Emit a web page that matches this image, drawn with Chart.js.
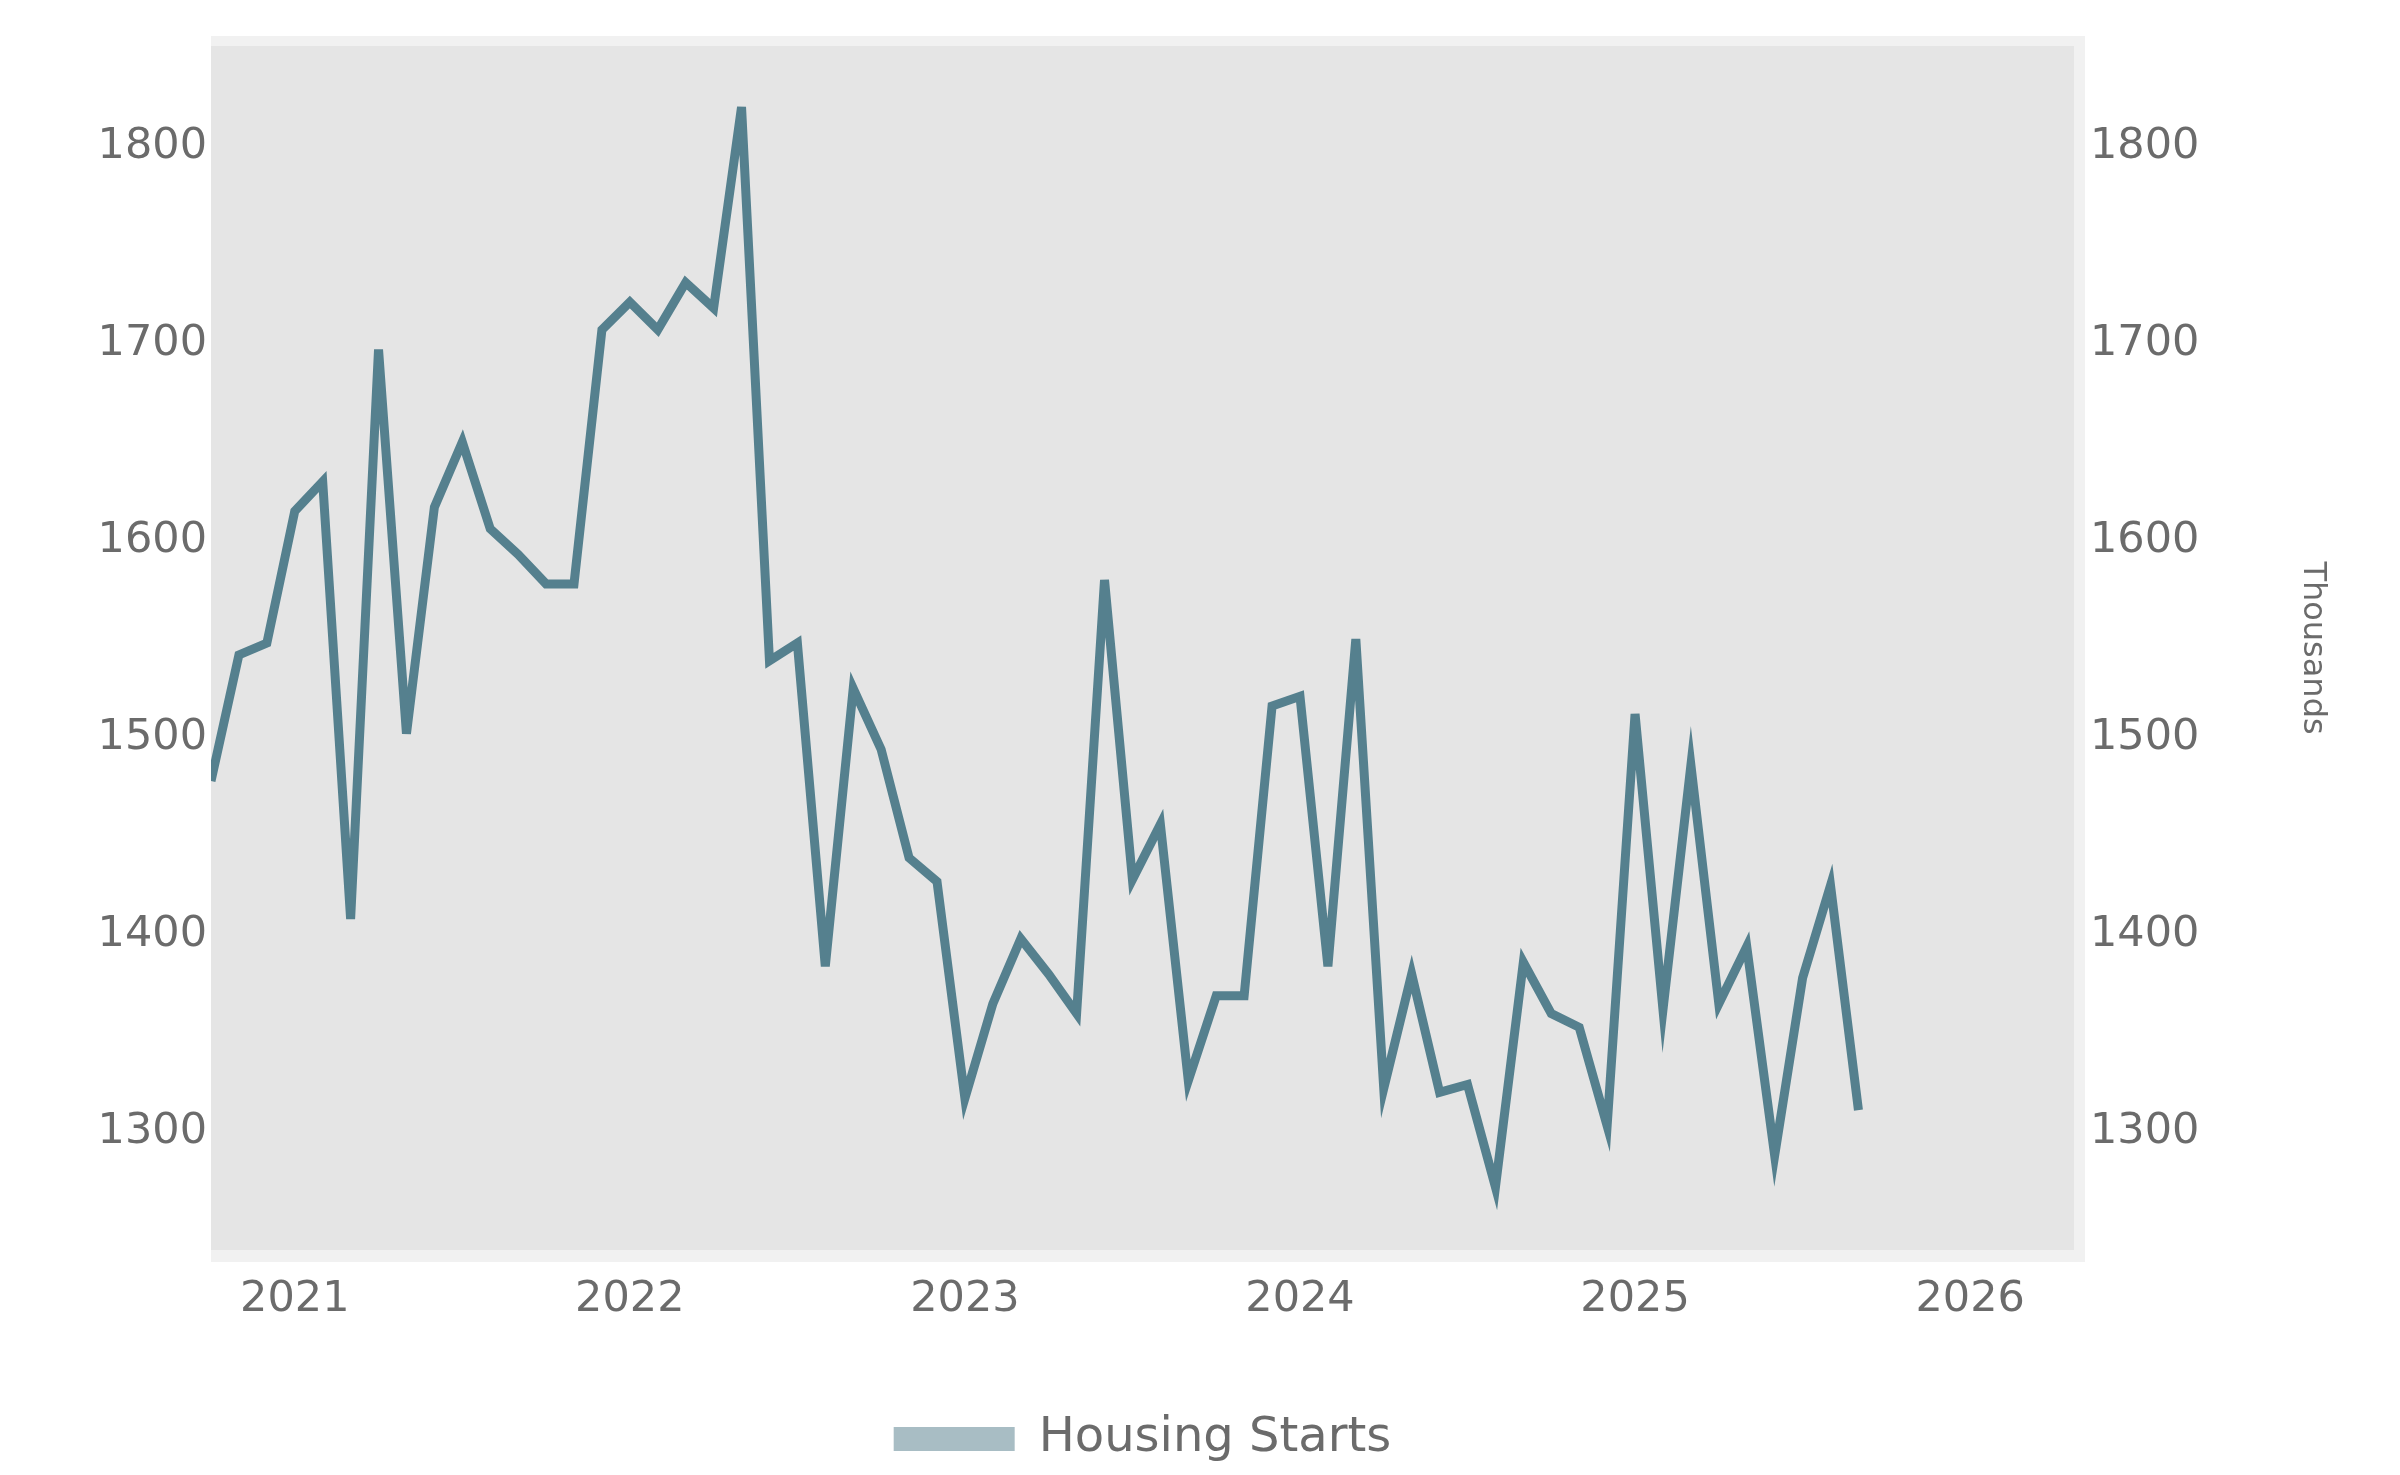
<!DOCTYPE html>
<html>
<head>
<meta charset="utf-8">
<script src="https://cdn.jsdelivr.net/npm/chart.js@4/dist/chart.umd.min.js"></script>
<style>
  html, body { margin: 0; padding: 0; background: #fff; }
  #wrap { width: 2400px; height: 1475px; }
</style>
</head>
<body>
<div id="wrap"><canvas id="chart" width="2400" height="1475"></canvas></div>
<script>
// Housing starts, monthly, Oct 2020 -> Sep 2025
const seriesName = 'Housing Starts';
const axisTitle = 'Thousands';
const firstMonth = { year: 2020, month: 10 };
const housingStarts = [
  1478, 1542, 1548, 1615, 1630, 1408, 1697, 1502, 1617, 1650,
  1606, 1593, 1578, 1578, 1707, 1721, 1707, 1731, 1718, 1820,
  1539, 1548, 1384, 1525, 1494, 1439, 1427, 1317, 1365, 1398,
  1380, 1360, 1580, 1428, 1456, 1326, 1369, 1369, 1516, 1521,
  1384, 1550, 1322, 1380, 1320, 1324, 1272, 1386, 1360, 1353,
  1303, 1512, 1362, 1486, 1365, 1394, 1288, 1378, 1425, 1311
];
const yearTicks = [2021, 2022, 2023, 2024, 2025, 2026];
const valueTicks = [1300, 1400, 1500, 1600, 1700, 1800];
const xRange = [2020.75, 2026.31];
const yRange = [1240, 1851];

const LINE = '#55808e';
const SWATCH = '#a8bdc4';
const TEXT = '#6b6b6b';
const FONT = 'DejaVu Sans';

const points = housingStarts.map((v, i) => ({
  x: firstMonth.year + (firstMonth.month - 1 + i) / 12,
  y: v
}));

const plotBg = {
  id: 'plotBg',
  afterLayout(chart) {
    // legend centred under the plot area, not the whole canvas
    const l = chart.legend, a = chart.chartArea;
    l.left = a.left;
    l.right = a.right;
    l.width = a.right - a.left;
  },
  beforeDraw(chart) {
    const { ctx, chartArea: a } = chart;
    ctx.save();
    ctx.fillStyle = '#fff';
    ctx.fillRect(0, 0, chart.width, chart.height);
    ctx.fillStyle = '#f1f1f1';
    ctx.fillRect(a.left, a.top - 10, a.right - a.left + 11, a.bottom - a.top + 22);
    ctx.fillStyle = '#e5e5e5';
    ctx.fillRect(a.left, a.top, a.right - a.left, a.bottom - a.top);
    ctx.restore();
  }
};

const valueAxis = (pos, pad) => ({
  type: 'linear',
  position: pos,
  min: yRange[0],
  max: yRange[1],
  afterBuildTicks: s => { s.ticks = valueTicks.map(v => ({ value: v })); },
  ticks: { callback: v => String(v), font: { family: FONT, size: 43 }, color: TEXT, padding: pad },
  grid: { display: false, drawTicks: false },
  border: { display: false }
});

const yLeft = valueAxis('left', 4);
yLeft.afterFit = s => { s.width = 211; };
const yRight = valueAxis('right', 16);
yRight.display = true;
yRight.afterFit = s => { s.width = 266; };
yRight.title = { display: true, text: axisTitle, font: { family: FONT, size: 32 }, color: TEXT, padding: { top: 8, bottom: 0 } };

new Chart(document.getElementById('chart'), {
  type: 'line',
  data: {
    datasets: [{
      label: seriesName,
      data: points,
      borderColor: LINE,
      backgroundColor: SWATCH,
      borderWidth: 9,
      pointRadius: 0,
      tension: 0,
      fill: false,
      yAxisID: 'y'
    }]
  },
  options: {
    responsive: false,
    animation: false,
    devicePixelRatio: 1,
    layout: { padding: { top: 46, left: 0, right: 60, bottom: 2 } },
    plugins: {
      legend: {
        position: 'bottom',
        labels: {
          font: { family: FONT, size: 48 },
          color: TEXT,
          boxWidth: 121,
          boxHeight: 24,
          padding: 20,
          generateLabels: chart => chart.data.datasets.map((ds, i) => ({
            text: ds.label,
            fillStyle: SWATCH,
            strokeStyle: SWATCH,
            lineWidth: 0,
            hidden: false,
            datasetIndex: i,
            fontColor: TEXT
          }))
        }
      },
      tooltip: { enabled: false }
    },
    scales: {
      x: {
        type: 'linear',
        min: xRange[0],
        max: xRange[1],
        afterBuildTicks: s => { s.ticks = yearTicks.map(v => ({ value: v })); },
        afterFit: s => { s.height = 145; },
        ticks: { callback: v => String(v), font: { family: FONT, size: 43 }, color: TEXT, padding: 24, maxRotation: 0 },
        grid: { display: false, drawTicks: false },
        border: { display: false }
      },
      y: yLeft,
      y2: yRight
    }
  },
  plugins: [plotBg]
});
</script>
</body>
</html>
